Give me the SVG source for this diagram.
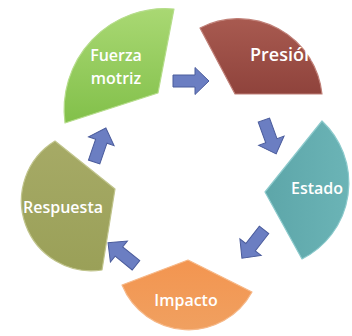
<svg xmlns="http://www.w3.org/2000/svg" width="352" height="336" viewBox="0 0 352 336">
<style>
.seg{stroke-width:1.2;stroke-linejoin:round}
.lbl{font-family:"Open Sans","Noto Sans",sans-serif;font-weight:600;font-size:16px;fill:#ffffff;dominant-baseline:central}
.arr{fill:#6b7ec2;stroke:#4b5c9c;stroke-width:1;stroke-linejoin:miter}
</style>
<defs>
<linearGradient id="gG" x1="0" y1="0" x2="0" y2="1"><stop offset="0" stop-color="#a9d873"/><stop offset="1" stop-color="#82c04a"/></linearGradient>
<linearGradient id="gR" x1="0" y1="0" x2="0" y2="1"><stop offset="0" stop-color="#a85a50"/><stop offset="1" stop-color="#8f433c"/></linearGradient>
<linearGradient id="gT" x1="0" y1="0" x2="1" y2="0"><stop offset="0" stop-color="#5da6a9"/><stop offset="1" stop-color="#6bb4b6"/></linearGradient>
<linearGradient id="gO" x1="0" y1="0" x2="0" y2="1"><stop offset="0" stop-color="#f39550"/><stop offset="1" stop-color="#f0a060"/></linearGradient>
<linearGradient id="gL" x1="0" y1="0" x2="0" y2="1"><stop offset="0" stop-color="#a6aa66"/><stop offset="1" stop-color="#9aa058"/></linearGradient>
<polygon id="arrow" points="-18,-6 4,-6 4,-13.5 18,0 4,13.5 4,6 -18,6"/>
</defs>
<rect width="352" height="336" fill="#ffffff"/>
<g id="fuerza-motriz">
<path class="seg" d="M158,93 L65,123 A101,101 0 0 1 174,9 Z" fill="url(#gG)" stroke="#b6dd8c"/>
<text class="lbl" x="116" y="55" text-anchor="middle">Fuerza</text>
<text class="lbl" x="116" y="78" text-anchor="middle">motriz</text>
</g>
<g id="presion">
<path class="seg" d="M235,94 L200,28 A84,84 0 0 1 322,94 Z" fill="url(#gR)" stroke="#c08078"/>
<text class="lbl" x="250" y="54" style="font-size:18px">Presión</text>
</g>
<g id="estado">
<path class="seg" d="M265,192 L322,121 A85,85 0 0 1 302,259 Z" fill="url(#gT)" stroke="#8ccacc"/>
<text class="lbl" x="317" y="188" text-anchor="middle">Estado</text>
</g>
<g id="impacto">
<path class="seg" d="M188,260 L252,292 A72,72 0 0 1 122,285 Z" fill="url(#gO)" stroke="#f6b888"/>
<text class="lbl" x="186" y="300" text-anchor="middle">Impacto</text>
</g>
<g id="respuesta">
<path class="seg" d="M115,189 L102,270 A70,70 0 0 1 55,141 Z" fill="url(#gL)" stroke="#c0c48c"/>
<text class="lbl" x="63" y="207" text-anchor="middle">Respuesta</text>
</g>
<g id="connectors">
<use href="#arrow" class="arr" transform="translate(191,81)"/>
<use href="#arrow" class="arr" transform="translate(270,137) rotate(70)"/>
<use href="#arrow" class="arr" transform="translate(253,244) rotate(128)"/>
<use href="#arrow" class="arr" transform="translate(122,254) rotate(219)"/>
<use href="#arrow" class="arr" transform="translate(100,145) rotate(-71)"/>
</g>
</svg>
